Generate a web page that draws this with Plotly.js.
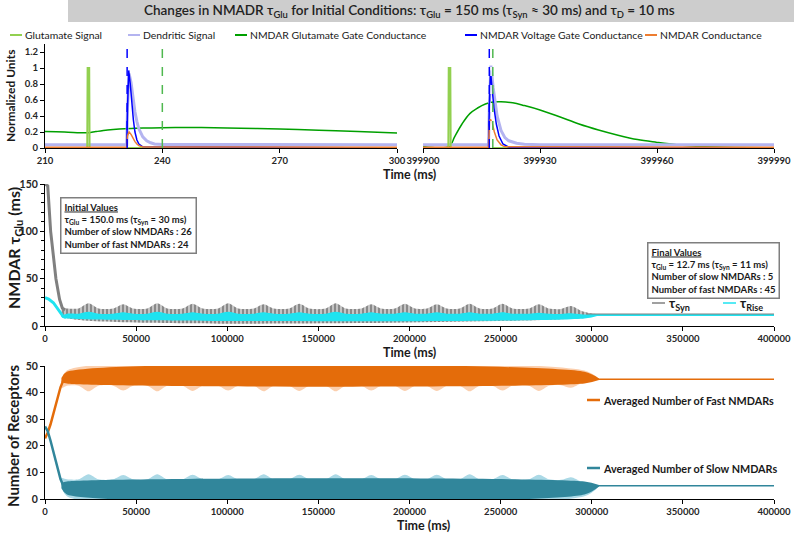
<!DOCTYPE html>
<html><head><meta charset="utf-8">
<script src="https://cdn.plot.ly/plotly-3.0.1.min.js"></script>
<style>html,body{margin:0;padding:0;background:#fff}#chart{width:794px;height:533px}</style>
</head><body><div id="chart"></div>
<script>
// ---------------- DATA ----------------
// Top-left window (210-300 ms)
const glutL_x = [210, 220.8, 220.9, 221.3, 221.4, 300];
const glutL_y = [0, 0, 1, 1, 0, 0];
const dendL_x = [210, 230.9, 231.1, 231.5, 232, 232.5, 233, 233.5, 234, 235, 236, 237, 238, 240, 300];
const dendL_y = [0.04, 0.04, 0.5, 0.93, 0.82, 0.62, 0.45, 0.33, 0.24, 0.14, 0.09, 0.065, 0.05, 0.045, 0.04];
const gateL_x = [210, 215, 221, 223, 226, 229, 232, 236, 240, 245, 250, 260, 270, 280, 290, 300];
const gateL_y = [0.205, 0.2, 0.19, 0.205, 0.225, 0.238, 0.245, 0.25, 0.254, 0.256, 0.255, 0.248, 0.236, 0.222, 0.205, 0.186];
const voltL_x = [210, 230.9, 231.1, 231.4, 231.8, 232.2, 232.6, 233, 233.5, 234, 235, 300];
const voltL_y = [0, 0, 0.5, 0.97, 0.8, 0.55, 0.35, 0.2, 0.1, 0.05, 0.015, 0];
const condL_x = [210, 230.9, 231.1, 231.5, 232, 232.5, 233, 233.5, 234, 235, 300];
const condL_y = [0.01, 0.01, 0.15, 0.2, 0.17, 0.12, 0.08, 0.05, 0.03, 0.012, 0.01];
const markL_blue = [231.0];
const markL_green = [240.0];

// Top-right window (399900-399990 ms)
const glutR_x = [399900, 399906.5, 399906.6, 399907.0, 399907.1, 399990];
const glutR_y = [0, 0, 1, 1, 0, 0];
const dendR_x = [399900, 399916.8, 399917.0, 399917.4, 399918, 399918.5, 399919, 399920, 399921, 399922, 399924, 399926, 399930, 399990];
const dendR_y = [0.04, 0.04, 0.5, 1.03, 0.75, 0.55, 0.4, 0.22, 0.13, 0.09, 0.06, 0.048, 0.042, 0.04];
const gateR_x = [399900, 399906.8, 399908, 399910, 399912, 399914, 399916, 399918, 399920, 399923, 399926, 399930, 399935, 399940, 399945, 399950, 399955, 399960, 399965, 399970, 399975, 399980, 399990];
const gateR_y = [0.02, 0.02, 0.13, 0.3, 0.43, 0.5, 0.55, 0.575, 0.578, 0.565, 0.53, 0.475, 0.39, 0.3, 0.225, 0.16, 0.105, 0.07, 0.04, 0.022, 0.012, 0.007, 0.003];
const voltR_x = [399900, 399916.8, 399917.0, 399917.3, 399917.7, 399918.2, 399918.8, 399919.5, 399920.5, 399922, 399990];
const voltR_y = [0, 0, 0.5, 0.97, 0.75, 0.5, 0.3, 0.15, 0.05, 0.01, 0];
const condR_x = [399900, 399916.8, 399917.0, 399917.3, 399917.8, 399918.3, 399919, 399920, 399921, 399990];
const condR_y = [0.01, 0.01, 0.25, 0.36, 0.3, 0.2, 0.1, 0.04, 0.015, 0.01];
const markR_blue = [399917.0];
const markR_white = [399917.45];
const markR_green = [399917.9];

// Oscillation envelope sample times (ms)
const tEnv = [9000, 12000, 18400, 23900, 29400, 37400, 42900, 48400, 56100, 61600, 67100, 75500, 81000, 86500, 95000, 100500, 106000, 114500, 120000, 125500, 134000, 139500, 145000, 154000, 159500, 165000, 173500, 179000, 184500, 192000, 197500, 203000, 209500, 215000, 220500, 227500, 233000, 238500, 245500, 251000, 256500, 265500, 271000, 276500, 283100, 288600, 294100, 299000, 304000];
const tFlat = [9000, 12000, 296000, 304000];

// Middle: tau (ms)
const tauSynUpper = [19, 18.5, 18.5,24,18.5, 18.5,23,18.5, 18.5,24,18.5, 18.5,23.5,18.5, 18.5,24,18.5, 18.5,23,18.5, 18.5,23.5,18.5, 18.5,24,18.5, 18.5,23,18.5, 18.5,23.5,18.5, 18.5,23,18.5, 18.5,23.5,18.5, 18.5,23.5,18.5, 18.5,23,18.5, 18,21,16, 13.5, 12.6];
const tauSynLower = [14, 8.5, 8.5, 12.0];
const tauRiseUpper = [11, 13, 13,15,13, 13,14.5,13, 13,15,13, 13,14.5,13, 13,15,13, 13,14.5,13, 13,14.5,13, 13,15,13, 13,14.5,13, 13,14.5,13, 13,14.5,13, 13,14.5,13, 13,14.5,13, 13,14,13, 12.8,13.5,12.5, 11.9, 11.6];
const tauRiseLower = [9.5, 8, 8, 11.2];
const tauSynRampX = [0, 1500, 3100, 6000, 8000, 9500, 11000];
const tauSynRampY = [150, 148, 100, 50, 28, 19, 17];
const tauRiseRampX = [0, 2000, 4600, 6500, 8300, 10000, 11500];
const tauRiseRampY = [30, 28.5, 24.6, 19, 13.7, 10, 9];
const finalX = [298000, 400000];
const tauSynFinal = [12.3, 12.3];
const tauRiseFinal = [11.4, 11.4];

// Bottom: receptor counts
const fastLightUpper = [43.5, 48.3, 48.3, 45.2];
const fastLightLower = [41.5, 42.6, 42.6,40.5,42.6, 42.6,40.8,42.6, 42.6,40.5,42.6, 42.6,40.6,42.6, 42.6,40.8,42.6, 42.6,40.5,42.6, 42.6,40.6,42.6, 42.6,40.5,42.6, 42.6,40.8,42.6, 42.6,40.6,42.6, 42.6,40.6,42.6, 42.6,40.5,42.6, 42.6,40.8,42.6, 42.6,40.6,42.6, 42.8,41.8,43.4, 44.3, 44.8];
const fastDarkUpper = [45.5, 47.8, 47.8, 45.3];
const fastDarkLower = [44, 43.4, 43.4, 44.7];
const slowLightUpper = [8, 7.4, 7.4,9.3,7.4, 7.4,9,7.4, 7.4,9.3,7.4, 7.4,9.1,7.4, 7.4,9,7.4, 7.4,9.3,7.4, 7.4,9.1,7.4, 7.4,9.3,7.4, 7.4,9,7.4, 7.4,9.1,7.4, 7.4,9.1,7.4, 7.4,9.3,7.4, 7.4,9,7.4, 7.4,9.1,7.4, 7.2,8.2,6.6, 5.7, 5.2];
const slowLightLower = [6, 1.0, 1.0, 4.8];
const slowDarkUpper = [6, 6.6, 6.6, 5.3];
const slowDarkLower = [4, 1.7, 1.7, 4.7];
const fastRampX = [0, 1500, 3000, 5000, 7000, 8500, 10000, 11500];
const fastRampY = [22.8, 25, 28, 33, 38.5, 42, 44.5, 45];
const slowRampX = [0, 1500, 3000, 5000, 7000, 8500, 10000, 11500];
const slowRampY = [27.3, 25.5, 22, 17, 11.5, 7.5, 5, 4.5];
const fastFinal = [45, 45];
const slowFinal = [5, 5];

// Tick labels
const topYTicks = [0, 0.2, 0.4, 0.6, 0.8, 1, 1.2];
const topLXTicks = [210, 240, 270, 300];
const topRXTicks = [399900, 399930, 399960, 399990];
const midYTicks = [0, 50, 100, 150];
const botYTicks = [0, 10, 20, 30, 40, 50];
const timeTicks = [0, 50000, 100000, 150000, 200000, 250000, 300000, 350000, 400000];

// ---------------- STYLE ----------------
const FONT = 'Lato, "Open Sans", Arial, sans-serif';
const C = {glut:'#92d050', dend:'#b4b4f0', gate:'#00a000', volt:'#0000ff', cond:'#ed7d31',
  syn:'#808080', rise:'#1fe3f0', fastD:'#e46c0a', fastL:'#fbcfae', slowD:'#31869b', slowL:'#abd9e6', gdash:'#4fb84f'};
const PX = v => v/794, PY = v => 1 - v/533;

const traces = [];
function line(x, y, xa, ya, color, width, extra) {
  traces.push(Object.assign({type:'scatter', mode:'lines', x, y, xaxis:xa, yaxis:ya, showlegend:false, hoverinfo:'skip',
    line:{color, width}}, extra||{}));
}
function vmark(vals, xa, ya, color) {
  vals.forEach(v => line([v, v], [0, 1.3], xa, ya, color, 1.5, {line:{color, width:1.5, dash:'dash'}}));
}
function band(xu, yu, xl, yl, xa, ya, fillcolor, pattern) {
  traces.push({type:'scatter', mode:'lines', x:xl, y:yl, xaxis:xa, yaxis:ya, showlegend:false, hoverinfo:'skip',
    line:{width:0, shape:'spline', smoothing:0.8, color:fillcolor}});
  const t = {type:'scatter', mode:'lines', x:xu, y:yu, xaxis:xa, yaxis:ya, showlegend:false, hoverinfo:'skip',
    fill:'tonexty', fillcolor, line:{width:0, shape:'spline', smoothing:0.8, color:fillcolor}};
  if (pattern) t.fillpattern = pattern;
  traces.push(t);
}

// top-left
line(gateL_x, gateL_y, 'x', 'y', C.gate, 1.5, {line:{color:C.gate, width:1.5, shape:'spline'}});
line(dendL_x, dendL_y, 'x', 'y', C.dend, 3);
line(glutL_x, glutL_y, 'x', 'y', C.glut, 2);
line(voltL_x, voltL_y, 'x', 'y', C.volt, 1.5);
line(condL_x, condL_y, 'x', 'y', C.cond, 1.5);
vmark(markL_blue, 'x', 'y', C.volt);
vmark(markL_green, 'x', 'y', C.gdash);
// top-right
line(gateR_x, gateR_y, 'x2', 'y2', C.gate, 1.5, {line:{color:C.gate, width:1.5, shape:'spline'}});
line(dendR_x, dendR_y, 'x2', 'y2', C.dend, 3);
line(glutR_x, glutR_y, 'x2', 'y2', C.glut, 2);
line(voltR_x, voltR_y, 'x2', 'y2', C.volt, 1.5);
line(condR_x, condR_y, 'x2', 'y2', C.cond, 1.5);
vmark(markR_blue, 'x2', 'y2', C.volt);
vmark(markR_white, 'x2', 'y2', '#ffffff');
vmark(markR_green, 'x2', 'y2', C.gdash);
// middle
band(tEnv, tauSynUpper, tFlat, tauSynLower, 'x3', 'y3', '#bdbdbd',
  {shape:'|', size:4, solidity:0.4, fgcolor:'#7a7a7a', bgcolor:'#c4c4c4', fillmode:'replace'});
line(tauSynRampX, tauSynRampY, 'x3', 'y3', C.syn, 3);
band(tEnv, tauRiseUpper, tFlat, tauRiseLower, 'x3', 'y3', C.rise);
line(tauRiseRampX, tauRiseRampY, 'x3', 'y3', C.rise, 3);
line(finalX, tauSynFinal, 'x3', 'y3', C.syn, 1.5);
line(finalX, tauRiseFinal, 'x3', 'y3', C.rise, 1.5);
// bottom
band(tFlat, fastLightUpper, tEnv, fastLightLower, 'x4', 'y4', C.fastL);
band(tFlat, fastDarkUpper, tFlat, fastDarkLower, 'x4', 'y4', C.fastD);
band(tEnv, slowLightUpper, tFlat, slowLightLower, 'x4', 'y4', C.slowL);
band(tFlat, slowDarkUpper, tFlat, slowDarkLower, 'x4', 'y4', C.slowD);
line(fastRampX, fastRampY, 'x4', 'y4', C.fastD, 2.5);
line(slowRampX, slowRampY, 'x4', 'y4', C.slowD, 2.5);
line(finalX, fastFinal, 'x4', 'y4', C.fastD, 1.5);
line(finalX, slowFinal, 'x4', 'y4', C.slowD, 1.5);

// ---------------- LAYOUT ----------------
const tickfont = {family:FONT, size:9.5, color:'#262626', weight:'bold'};
function ax(o) {
  return Object.assign({showgrid:false, zeroline:false, showline:true, linecolor:'#000', linewidth:1,
    ticks:'outside', ticklen:4, tickcolor:'#000', tickfont, fixedrange:true}, o);
}
const dTop = [PY(148), PY(44)];
const layout = {
  width:794, height:533, margin:{l:0, r:0, t:0, b:0},
  paper_bgcolor:'#fff', plot_bgcolor:'rgba(0,0,0,0)', showlegend:false,
  font:{family:FONT, size:11, color:'#1a1a1a'},
  xaxis: ax({domain:[PX(45), PX(397)], range:[210, 300], tickvals:topLXTicks, anchor:'y'}),
  yaxis: ax({domain:dTop, range:[0, 1.3], tickvals:topYTicks, ticktext:topYTicks.map(String), anchor:'x'}),
  xaxis2: ax({domain:[PX(423), PX(774)], range:[399900, 399990], tickvals:topRXTicks, tickformat:'d', anchor:'y2'}),
  yaxis2: ax({domain:dTop, range:[0, 1.3], visible:false, anchor:'x2'}),
  xaxis3: ax({domain:[PX(45), PX(774)], range:[0, 400000], tickvals:timeTicks, tickformat:'d', anchor:'y3'}),
  yaxis3: ax({domain:[PY(326), PY(184)], range:[0, 150], tickvals:midYTicks, anchor:'x3', tickfont:Object.assign({}, tickfont, {size:10.5}),
    minor:{dtick:10, ticks:'outside', ticklen:3, tickcolor:'#000', showgrid:false}}),
  xaxis4: ax({domain:[PX(45), PX(774)], range:[0, 400000], tickvals:timeTicks, tickformat:'d', anchor:'y4'}),
  yaxis4: ax({domain:[PY(499), PY(366)], range:[0, 50], tickvals:botYTicks, anchor:'x4', tickfont:Object.assign({}, tickfont, {size:10.5})}),
  shapes:[], annotations:[]
};

// title box
layout.shapes.push({type:'rect', xref:'paper', yref:'paper', x0:PX(68), x1:1, y0:PY(22), y1:1, fillcolor:'#cdcdcd', line:{width:0}, layer:'below'});
function ann(text, x, y, o) {
  layout.annotations.push(Object.assign({text, x:PX(x), y:PY(y), xref:'paper', yref:'paper', showarrow:false,
    xanchor:'center', yanchor:'middle',
    font:{family:FONT, size:12, color:'#1a1a1a', weight:'bold'}}, o||{}));
}
ann('Changes in NMADR τ<sub>Glu</sub> for Initial Conditions: τ<sub>Glu</sub> = 150 ms (τ<sub>Syn</sub> ≈ 30 ms) and τ<sub>D</sub> = 10 ms',
  410, 11, {font:{family:FONT, size:13.5, color:'#222', weight:600}});

// top legend
const topLeg = [['Glutamate Signal', C.glut, 10], ['Dendritic Signal', C.dend, 128], ['NMDAR Glutamate Gate Conductance', C.gate, 235],
  ['NMDAR Voltage Gate Conductance', C.volt, 465], ['NMDAR Conductance', C.cond, 645]];
topLeg.forEach(([t, c, x]) => {
  layout.shapes.push({type:'line', xref:'paper', yref:'paper', x0:PX(x), x1:PX(x+12), y0:PY(35), y1:PY(35), line:{color:c, width:2}});
  ann(t, x+13, 35, {xanchor:'left', font:{family:FONT, size:10.4, color:'#1a1a1a'}});
});
// middle legend
[['τ<sub>Syn</sub>', C.syn, 652], ['τ<sub>Rise</sub>', C.rise, 723]].forEach(([t, c, x]) => {
  layout.shapes.push({type:'line', xref:'paper', yref:'paper', x0:PX(x), x1:PX(x+13), y0:PY(303), y1:PY(303), line:{color:c, width:1.5}});
  ann(t, x+15, 304, {xanchor:'left', font:{family:FONT, size:13, color:'#1a1a1a', weight:'bold'}});
});
// bottom legend
[['Averaged Number of Fast NMDARs', C.fastD, 400], ['Averaged Number of Slow NMDARs', C.slowD, 468]].forEach(([t, c, y]) => {
  layout.shapes.push({type:'line', xref:'paper', yref:'paper', x0:PX(587), x1:PX(600), y0:PY(y), y1:PY(y), line:{color:c, width:2.5}});
  ann(t, 601, y, {xanchor:'left', font:{family:FONT, size:10.8, color:'#1a1a1a', weight:'bold'}});
});

// axis titles
ann('Time (ms)', 410, 174, {font:{family:FONT, size:12.5, color:'#1a1a1a', weight:'bold'}});
ann('Time (ms)', 410, 352, {font:{family:FONT, size:12.5, color:'#1a1a1a', weight:'bold'}});
ann('Time (ms)', 423, 525, {font:{family:FONT, size:12.5, color:'#1a1a1a', weight:'bold'}});
ann('Normalized Units', 11, 96, {textangle:-90, font:{family:FONT, size:12, color:'#1a1a1a', weight:'bold'}});
ann('NMDAR τ<sub>Glu</sub> (ms)', 14, 248, {textangle:-90, font:{family:FONT, size:16, color:'#1a1a1a', weight:'bold'}});
ann('Number of Receptors', 13, 436, {textangle:-90, font:{family:FONT, size:15, color:'#1a1a1a', weight:'bold'}});

// info boxes
const boxFont = {family:FONT, size:9.5, color:'#1a1a1a', weight:'bold'};
ann('<u>Initial Values</u><br>τ<sub>Glu</sub> = 150.0 ms (τ<sub>Syn</sub> ≈ 30 ms)<br>Number of slow NMDARs : 26<br>Number of fast NMDARs : 24',
  60, 197, {xanchor:'left', yanchor:'top', align:'left', bgcolor:'#fff', bordercolor:'#7f7f7f', borderwidth:1.5, borderpad:3, font:boxFont});
ann('<u>Final Values</u><br>τ<sub>Glu</sub> = 12.7 ms (τ<sub>Syn</sub> = 11 ms)<br>Number of slow NMDARs : 5<br>Number of fast NMDARs : 45',
  647, 242, {xanchor:'left', yanchor:'top', align:'left', bgcolor:'#fff', bordercolor:'#7f7f7f', borderwidth:1.5, borderpad:3, font:boxFont});

Plotly.newPlot('chart', traces, layout, {displayModeBar:false, staticPlot:true});
</script></body></html>
